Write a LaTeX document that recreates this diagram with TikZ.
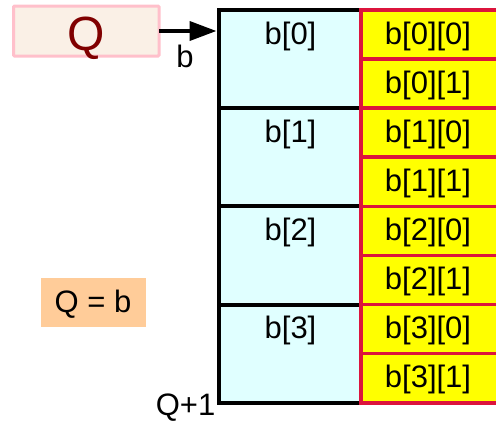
\documentclass[tikz,border=0pt]{standalone}
\usepackage{fontspec}
\setmainfont{Liberation Sans}
\usetikzlibrary{arrows.meta}

\definecolor{cellcyan}{HTML}{E0FFFF}
\definecolor{cellyellow}{HTML}{FFFF00}
\definecolor{cellred}{HTML}{DC143C}
\definecolor{qfill}{HTML}{FAF0E6}
\definecolor{qborder}{HTML}{FFC0CB}
\definecolor{qtext}{HTML}{800000}
\definecolor{notefill}{HTML}{FFCC99}

\tikzset{
  rowcell/.style={draw=black, line width=4pt, fill=cellcyan,
    minimum width=142.5pt, minimum height=98.25pt,
    inner sep=0pt, outer sep=0pt, anchor=north west},
  subcell/.style={draw=cellred, line width=3.5pt, fill=cellyellow,
    minimum width=139pt, minimum height=49.125pt,
    inner sep=0pt, outer sep=0pt, anchor=north west},
  lbl/.style={font=\fontsize{31}{37}\selectfont, inner sep=0pt, anchor=base},
  pointer/.style={line width=4pt, -{Triangle[length=27pt, width=19pt]}},
}

\begin{document}
\begin{tikzpicture}[x=1pt, y=-1pt]
  \useasboundingbox (0,0) rectangle (496,423);

  % outer array: one cyan cell per row b[i]
  \foreach \i in {0,...,3} {
    \node[rowcell] (c\i) at (218.5, {9.75+98.25*\i}) {};
  }
  % inner elements b[i][j]
  \foreach \i in {0,...,3} {
    \foreach \j in {0,1} {
      \node[subcell] (y\i\j) at (361, {9.75+98.25*\i+49.125*\j}) {};
    }
  }
  % labels
  \foreach \i in {0,...,3} {
    \node[lbl] (lc\i) at (290.5, {44+98.25*\i}) {b[\i]};
    \foreach \j in {0,1} {
      \node[lbl] (ly\i\j) at (428, {44+98.25*\i+49.125*\j}) {b[\i][\j]};
    }
  }

  % pointer Q
  \node[draw=qborder, line width=3pt, fill=qfill, rounded corners=1pt,
        minimum width=145.5pt, minimum height=50pt,
        inner sep=0pt, outer sep=0pt] (qbox) at (86.25, 31) {};
  \node[lbl, font=\fontsize{48}{56}\selectfont, text=qtext] (qlbl) at (86, 50) {Q};

  \draw[pointer, shorten >=2pt] (qbox.east) -- (qbox.east -| c0.west);
  \node[lbl] (blbl) at (185, 67) {b};

  % note
  \node[fill=notefill, minimum width=105pt, minimum height=49pt,
        inner sep=0pt, outer sep=0pt] (note) at (93.2, 302) {};
  \node[lbl] (notelbl) at (93, 312) {Q = b};

  % end marker
  \node[lbl, anchor=base east] (endlbl) at (215.5, 415) {Q+1};
\end{tikzpicture}
\end{document}
